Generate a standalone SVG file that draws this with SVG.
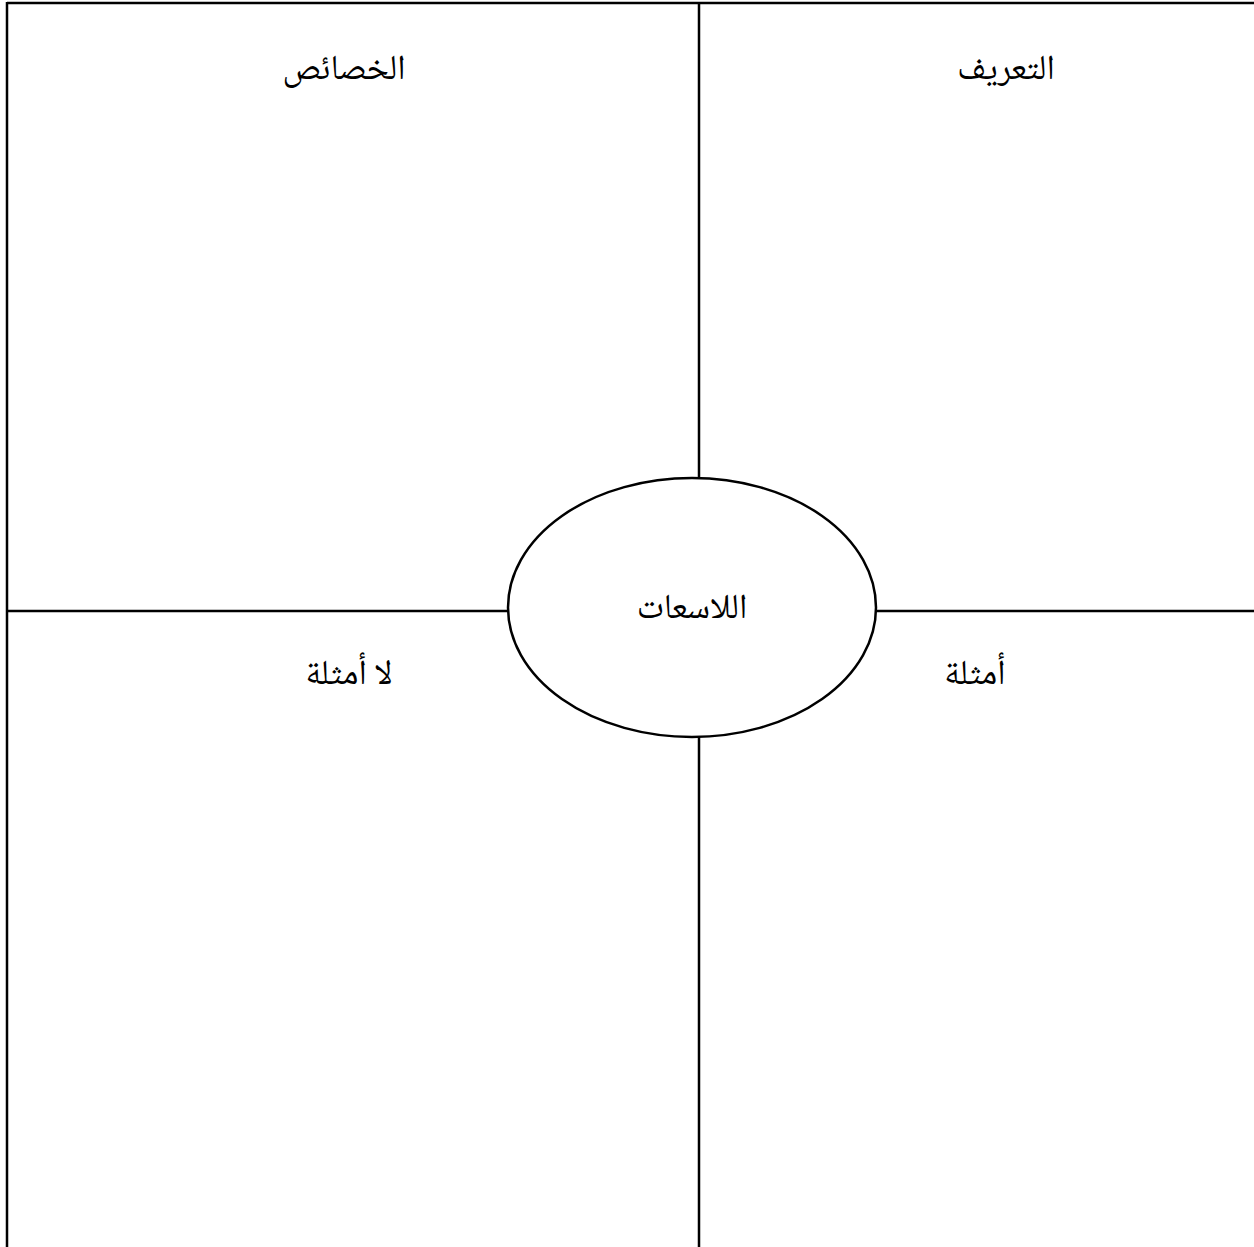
<svg xmlns="http://www.w3.org/2000/svg" width="1254" height="1247" viewBox="0 0 1254 1247">
<style>
.ln{stroke:#000;stroke-width:2.5;fill:none}
.t{font-family:"Noto Naskh Arabic","Amiri","Noto Serif","Liberation Serif","DejaVu Sans",serif;font-size:35px;fill:#000;text-anchor:middle}
</style>
<rect width="1254" height="1247" fill="#fff"/>
<g id="connectors">
<line class="ln" x1="7" y1="3" x2="1254" y2="3"/>
<line class="ln" x1="7" y1="2" x2="7" y2="1247"/>
<line class="ln" x1="699" y1="3" x2="699" y2="478"/>
<line class="ln" x1="699" y1="737" x2="699" y2="1247"/>
<line class="ln" x1="7" y1="611" x2="508" y2="611"/>
<line class="ln" x1="876" y1="611" x2="1254" y2="611"/>
</g>
<g id="definition"><text class="t" x="1006" y="79">التعريف</text></g>
<g id="characteristics"><text class="t" x="344" y="79">الخصائص</text></g>
<g id="center"><ellipse class="ln" cx="692" cy="607.5" rx="184" ry="129.5" fill="#fff"/><text class="t" x="692" y="618">اللاسعات</text></g>
<g id="examples"><text class="t" x="975" y="684">أمثلة</text></g>
<g id="nonexamples"><text class="t" x="349" y="684">لا أمثلة</text></g>
</svg>
